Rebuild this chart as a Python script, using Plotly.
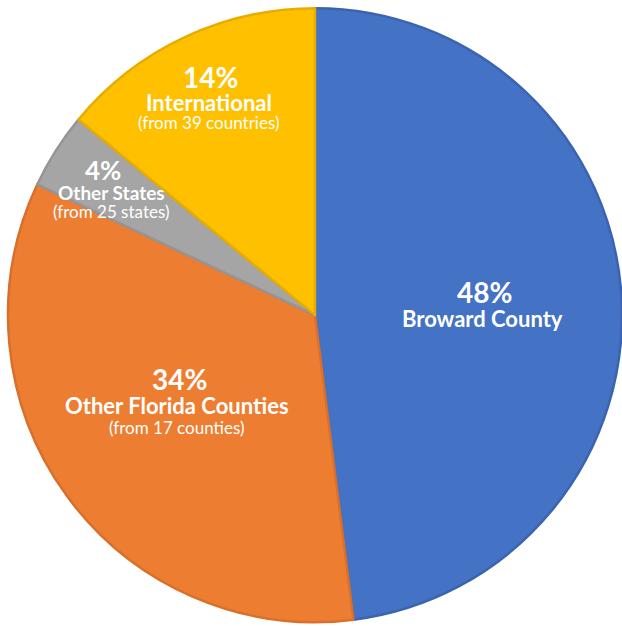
import plotly.graph_objects as go

# Parts du camembert (pourcentages affichés sur l'image)
categories = ["Broward County", "Other Florida Counties", "Other States", "International"]
shares = [48, 34, 4, 14]
pct_labels = ["48%", "34%", "4%", "14%"]
sub_labels = ["", "(from 17 counties)", "(from 25 states)", "(from 39 countries)"]

colors = ["#4472C4", "#ED7D31", "#A5A5A5", "#FFC000"]
edge_colors = ["#3B64B0", "#D8702B", "#959595", "#E6AD00"]

fig = go.Figure(go.Pie(
    labels=categories,
    values=shares,
    sort=False,
    direction="clockwise",
    rotation=0,
    textinfo="none",
    hoverinfo="label+percent",
    marker=dict(colors=colors, line=dict(color=edge_colors, width=2.5)),
    domain=dict(x=[0.0129, 1.0], y=[0.0032, 0.990]),
    showlegend=False,
))

W, H = 622, 626
FONT = "Lato"


def add_label(px, py, text, size, bold=True):
    # px, py en pixels depuis le coin haut-gauche
    fig.add_annotation(
        x=px / W, y=1 - py / H, xref="paper", yref="paper",
        text=f"<b>{text}</b>" if bold else text,
        showarrow=False, xanchor="center", yanchor="middle",
        font=dict(family=FONT, size=size, color="white"),
        borderpad=0,
    )


# Broward
add_label(484, 292, pct_labels[0], 28)
add_label(482, 318, categories[0], 22)
# Autres comtés de Floride
add_label(179, 379, pct_labels[1], 28)
add_label(177, 405, categories[1], 22)
add_label(177, 427, sub_labels[1], 17, bold=False)
# Autres États
add_label(103, 170, pct_labels[2], 26)
add_label(111, 192, categories[2], 19)
add_label(111, 211, sub_labels[2], 17, bold=False)
# International
add_label(210, 77, pct_labels[3], 28)
add_label(209, 102, categories[3], 22)
add_label(209, 123, sub_labels[3], 17, bold=False)

fig.update_layout(
    width=W, height=H,
    margin=dict(l=0, r=0, t=0, b=0),
    paper_bgcolor="white",
    plot_bgcolor="white",
)

# la marge par défaut du <body> décale tout de 8 px
fig.write_html("out.html", config={"displayModeBar": False},
               post_script="document.body.style.margin='0';")
